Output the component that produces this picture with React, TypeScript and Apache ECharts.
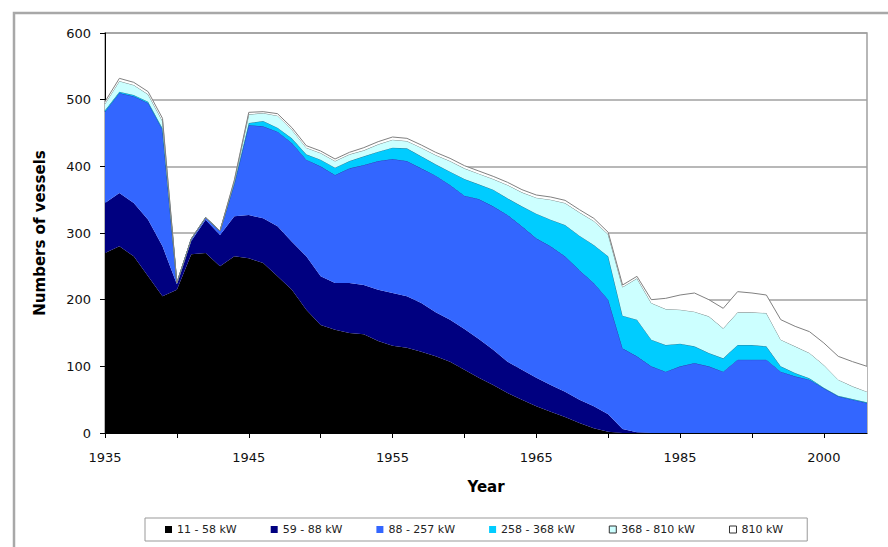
import React, { useEffect, useRef } from "react";
import * as echarts from "echarts";

const years: string[] = [
  "1935","1936","1937","1938","1939","1940","1941","1942","1943","1944",
  "1945","1946","1947","1948","1949","1950","1951","1952","1953","1954",
  "1955","1956","1957","1958","1959","1960","1961","1962","1963","1964",
  "1965","1967","1969","1971","1973","1975","1977","1979","1981","1983",
  "1985","1987","1988","1990","1991","1993","1994","1996","1997","1999",
  "2000","2001","2002","2003",
];

const kw11_58 = [
  270,280,265,235,205,215,268,270,250,265,
  262,255,235,215,185,162,155,150,148,138,
  131,128,122,115,107,95,83,72,60,50,
  40,32,24,15,7,2,0,0,0,0,
  0,0,0,0,0,0,0,0,0,0,
  0,0,0,0,
];
const kw59_88 = [
  75,80,80,85,75,8,20,50,47,60,
  65,67,75,72,80,73,70,75,74,77,
  79,77,73,66,63,61,58,53,47,45,
  43,40,38,35,33,26,6,1,0,0,
  0,0,0,0,0,0,0,0,0,0,
  0,0,0,0,
];
const kw88_257 = [
  137,150,160,175,175,2,3,3,6,49,
  135,138,142,148,145,165,162,172,180,193,
  201,203,202,205,202,200,210,215,220,215,
  209,208,203,194,185,172,121,114,100,92,
  100,105,100,92,110,110,110,92,85,80,
  67,55,50,45,
];
const kw258_368 = [
  2,2,2,2,2,0,0,0,0,2,
  3,8,6,7,8,10,11,11,13,14,
  17,19,18,17,20,25,22,25,25,30,
  37,40,47,52,57,65,49,55,40,40,
  34,25,20,20,22,22,20,8,5,2,
  1,1,1,1,
];
const kw368_810 = [
  10,16,15,11,11,0,0,0,0,2,
  13,12,18,13,10,10,10,10,9,11,
  12,11,13,14,16,16,16,16,20,21,
  24,30,33,35,36,33,43,62,55,54,
  51,52,55,45,49,49,50,40,40,38,
  34,24,19,16,
];
const kw810 = [
  3,4,4,4,4,0,0,0,0,2,
  3,2,3,3,3,3,3,3,4,4,
  4,4,4,4,4,4,4,4,4,4,
  4,4,4,4,4,3,3,3,5,16,
  22,28,25,30,31,29,27,30,30,32,
  33,35,37,38,
];

const seriesNames = ["11 - 58 kW", "59 - 88 kW", "88 - 257 kW", "258 - 368 kW", "368 - 810 kW", "810 kW"];
const yTicks = [0, 100, 200, 300, 400, 500, 600];

export default function App() {
  const ref = useRef<HTMLDivElement>(null);
  useEffect(() => {
    if (!ref.current) return;
    const chart = echarts.init(ref.current, undefined, { renderer: "svg" });
    const font = "DejaVu Sans";
    const fills = ["#000000", "#000080", "#3366FF", "#00CCFF", "#CCFFFF", "#FFFFFF"];
    const lines = ["#000000", "#000080", "#2546b8", "#2a7f9a", "#7a8a8a", "#808080"];
    const data = [kw11_58, kw59_88, kw88_257, kw258_368, kw368_810, kw810];
    chart.setOption({
      animation: false,
      backgroundColor: "#ffffff",
      grid: {
        left: 105, top: 33, right: 21, bottom: 114,
        show: true, borderColor: "#a0a0a0", borderWidth: 1.5, backgroundColor: "#ffffff",
      },
      graphic: [
        {
          type: "rect", z: 100, silent: true,
          shape: { x: 14, y: 13, width: 900, height: 600 },
          style: { fill: "none", stroke: "#a8a8a8", lineWidth: 2.5 },
        },
      ],
      legend: {
        left: 145, top: 518,
        orient: "horizontal",
        backgroundColor: "#ffffff",
        borderColor: "#999999", borderWidth: 1,
        padding: [6, 24, 6, 20],
        itemGap: 34,
        itemWidth: 7, itemHeight: 7,
        icon: "rect",
        textStyle: { fontFamily: font, fontSize: 11, color: "#222" },
        data: seriesNames.map((n, i) => ({
          name: n,
          icon: "rect",
          itemStyle: i >= 4 ? { color: fills[i], borderColor: "#333", borderWidth: 1 } : { color: fills[i] },
        })),
      },
      xAxis: {
        type: "category",
        data: years,
        boundaryGap: false,
        name: "Year",
        nameLocation: "middle",
        nameGap: 46,
        nameTextStyle: { fontFamily: font, fontWeight: "bold", fontSize: 15, color: "#000" },
        axisLine: { lineStyle: { color: "#000", width: 1 } },
        axisTick: { interval: (idx: number) => idx % 5 === 0 && idx <= 50, length: 5, lineStyle: { color: "#000" } },
        axisLabel: {
          interval: (idx: number) => idx % 10 === 0 && idx <= 50,
          fontFamily: font, fontSize: 13, color: "#111", margin: 18,
        },
        splitLine: { show: false },
      },
      yAxis: {
        type: "value",
        min: 0, max: 600, interval: 100,
        name: "Numbers of vessels",
        nameLocation: "middle",
        nameRotate: 90,
        nameGap: 58,
        nameTextStyle: { fontFamily: font, fontWeight: "bold", fontSize: 15, color: "#000" },
        axisLine: { show: true, lineStyle: { color: "#000", width: 1 } },
        axisTick: { show: true, length: 5, lineStyle: { color: "#000" } },
        axisLabel: {
          fontFamily: font, fontSize: 13, color: "#111", margin: 14,
          formatter: (v: number) => (yTicks.includes(v) ? String(v) : ""),
        },
        splitLine: { show: true, lineStyle: { color: "#a0a0a0", width: 1.5 } },
      },
      series: seriesNames.map((n, i) => ({
        name: n,
        type: "line",
        stack: "total",
        data: data[i],
        symbol: "none",
        smooth: false,
        itemStyle: { color: fills[i] },
        lineStyle: { color: lines[i], width: i <= 1 ? 0 : 1 },
        areaStyle: { color: fills[i], opacity: 1 },
        z: 2 + i,
      })),
    });
    return () => chart.dispose();
  }, []);
  return (
    <div
      ref={ref}
      style={{ position: "fixed", left: 0, top: 0, width: 888, height: 547, background: "#fff" }}
    />
  );
}
